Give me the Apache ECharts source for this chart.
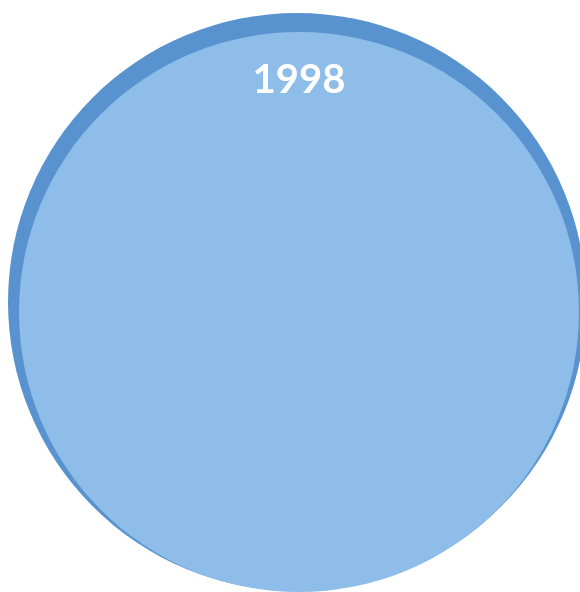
<!DOCTYPE html>
<html><head><meta charset="utf-8">
<style>html,body{margin:0;padding:0;background:#fff;}#c{width:580px;height:592px;}</style>
<script src="https://cdn.jsdelivr.net/npm/echarts@6/dist/echarts.min.js"></script>
</head><body><div id="c"></div>
<script>
// Circle-pack nodes: name, centre x, centre y, radius (data units), depth
var names = ['', '1998'];
var centerX = [297, 299];
var centerY = [302, 312];
var radii = [289, 280];
var depths = [0, 1];
var colors = ['#5893cf', '#8dbde8'];

var data = names.map(function (n, i) {
  return { name: n, value: [centerX[i], centerY[i], radii[i], depths[i]] };
});

var chart = echarts.init(document.getElementById('c'));
chart.setOption({
  animation: false,
  grid: { left: 0, right: 0, top: 0, bottom: 0 },
  xAxis: { type: 'value', min: 0, max: 580, show: false },
  yAxis: { type: 'value', min: 0, max: 592, inverse: true, show: false },
  series: [{
    type: 'custom',
    coordinateSystem: 'cartesian2d',
    data: data,
    renderItem: function (params, api) {
      var p = api.coord([api.value(0), api.value(1)]);
      var r = api.size([api.value(2), 0])[0];
      var d = api.value(3);
      var children = [{
        type: 'circle',
        shape: { cx: p[0], cy: p[1], r: r },
        style: { fill: colors[d] }
      }];
      var name = names[params.dataIndex];
      if (name) {
        children.push({
          type: 'text',
          style: {
            text: name, x: p[0], y: p[1] - r + 48,
            fill: '#ffffff', font: 'bold 40px Lato, sans-serif',
            align: 'center', verticalAlign: 'middle'
          }
        });
      }
      return { type: 'group', children: children };
    }
  }]
});
</script></body></html>
